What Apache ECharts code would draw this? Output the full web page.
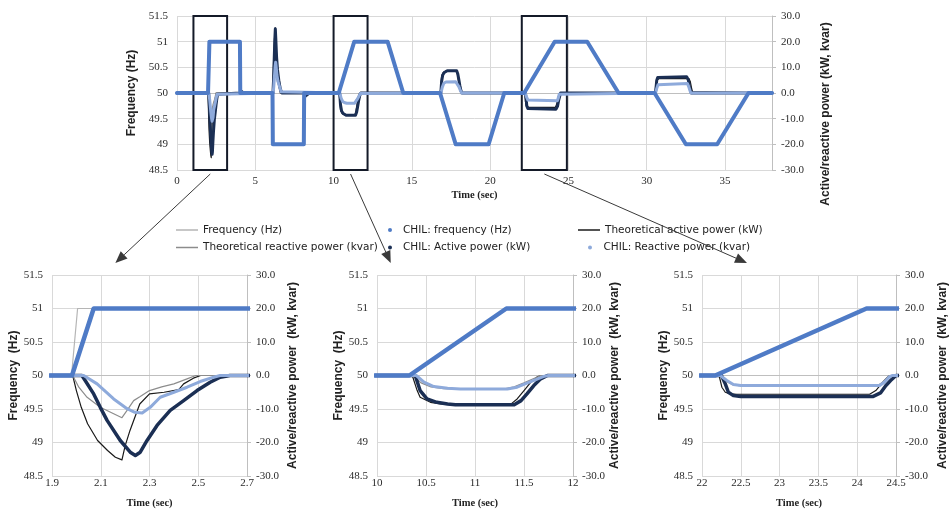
<!DOCTYPE html>
<html><head><meta charset="utf-8">
<script src="https://cdn.jsdelivr.net/npm/echarts@6/dist/echarts.min.js"></script>
<style>html,body{margin:0;padding:0;background:#fff}#c{width:950px;height:512px}</style>
</head><body><div id="c"></div>
<script>
// ---- data (time in s; frequency in Hz; power in kW / kvar) ----
const freqTheory = [[0,50],[1.98,50],[2.005,51],[4.0,51],[4.02,50],[6.1,50],[6.12,49],[8.1,49],[8.12,50],[10.33,50],[11.33,51],[13.45,51],[14.45,50],[16.8,50],[17.8,49],[19.9,49],[20.9,50],[22.17,50],[24.12,51],[26.2,51],[28.2,50],[30.5,50],[32.5,49],[34.5,49],[36.5,50],[38,50]];
const freqCHIL = [[0,50],[1.982,50],[2.071,51],[4.02,51],[4.04,50],[6.1,50],[6.12,49],[8.1,49],[8.12,50],[10.33,50],[11.32,51],[13.45,51],[14.45,50],[16.8,50],[17.8,49],[19.9,49],[20.9,50],[22.17,50],[24.12,51],[26.2,51],[28.2,50],[30.5,50],[32.5,49],[34.5,49],[36.5,50],[38,50]];
const activeTheory = [[0,0],[1.985,0],[2.0,-4.5],[2.02,-9.5],[2.046,-14.4],[2.087,-19.4],[2.128,-22.4],[2.16,-24.4],[2.187,-25.2],[2.2,-21.0],[2.22,-16.4],[2.26,-8.5],[2.30,-5.5],[2.36,-5.0],[2.42,-4.2],[2.44,-2.5],[2.48,-0.8],[2.51,0],
 [6.12,0],[6.135,4.5],[6.155,9.5],[6.18,14.4],[6.21,19.4],[6.24,22.4],[6.26,24.4],[6.28,25.4],[6.29,21.0],[6.31,16.4],[6.35,8.5],[6.39,5.5],[6.45,5.0],[6.51,4.2],[6.53,2.5],[6.57,0.8],[6.6,0],
 [10.36,0],[10.41,-4.5],[10.44,-6.5],[10.545,-8.0],[10.65,-8.5],[10.75,-8.7],[11.36,-8.7],[11.43,-7.0],[11.50,-4.5],[11.57,-2.0],[11.64,-0.3],[11.68,0],
 [16.82,0],[16.87,4.5],[16.9,6.5],[17.0,8.0],[17.1,8.5],[17.2,8.7],[17.85,8.7],[17.92,7.0],[17.99,4.5],[18.06,2.0],[18.13,0.3],[18.17,0],
 [22.22,0],[22.256,-3.5],[22.30,-5.0],[22.36,-5.5],[22.45,-5.6],[24.16,-5.6],[24.24,-4.5],[24.33,-2.0],[24.39,-0.5],[24.42,0],
 [30.55,0],[30.59,3.5],[30.63,5.0],[30.69,5.5],[30.78,5.6],[32.7,5.6],[32.78,4.5],[32.86,2.0],[32.92,0.5],[32.95,0],[38,0]];
const reactiveTheory = [[0,0],[1.985,0],[2.01,-3.5],[2.044,-6.5],[2.098,-9.5],[2.153,-11.4],[2.187,-12.6],[2.208,-10.4],[2.235,-7.5],[2.262,-6.3],[2.30,-4.5],[2.35,-3.4],[2.40,-2.5],[2.454,-1.0],[2.49,0],
 [6.12,0],[6.14,3.5],[6.17,6.5],[6.22,9.5],[6.27,11.4],[6.30,12.3],[6.32,10.4],[6.35,7.5],[6.39,5.0],[6.45,3.5],[6.52,2.5],[6.58,1.0],[6.62,0],
 [10.37,0],[10.45,-2.2],[10.55,-3.4],[10.68,-3.9],[10.8,-4.0],[11.3,-4.0],[11.4,-3.4],[11.5,-2.2],[11.6,-0.9],[11.67,0],
 [16.83,0],[16.91,2.2],[17.01,3.8],[17.15,4.3],[17.28,4.4],[17.78,4.4],[17.88,3.8],[17.98,2.5],[18.08,1.0],[18.15,0],
 [22.22,0],[22.3,-1.6],[22.39,-2.7],[22.48,-3.0],[24.26,-3.0],[24.33,-2.0],[24.39,-0.5],[24.42,0],
 [30.55,0],[30.63,1.8],[30.71,3.2],[30.8,3.7],[32.58,3.7],[32.66,2.5],[32.74,1.0],[32.8,0],[38,0]];
const activeCHIL = [[0,0],[2.023,0],[2.071,-5.5],[2.098,-9.5],[2.126,-13.4],[2.18,-19.4],[2.221,-22.9],[2.242,-23.9],[2.262,-22.9],[2.29,-19.4],[2.331,-14.9],[2.385,-10.4],[2.44,-7.5],[2.495,-4.5],[2.549,-2.0],[2.59,-0.5],[2.63,0],
 [4.04,0],[4.08,0.8],[4.15,0.3],[4.25,0],
 [6.13,0],[6.17,5.5],[6.21,13.4],[6.25,21.0],[6.28,25.0],[6.31,21.0],[6.36,14.0],[6.42,9.0],[6.5,5.0],[6.6,1.5],[6.7,0],
 [8.14,0],[8.2,-1.2],[8.3,-0.8],[8.45,0],
 [10.39,0],[10.44,-4.5],[10.51,-7.0],[10.61,-8.0],[10.72,-8.5],[10.8,-8.7],[11.40,-8.7],[11.47,-7.5],[11.53,-5.5],[11.60,-3.0],[11.67,-1.0],[11.74,0],
 [16.85,0],[16.9,4.5],[16.97,7.0],[17.07,8.0],[17.18,8.5],[17.26,8.7],[17.86,8.7],[17.93,7.5],[17.99,5.5],[18.06,3.0],[18.13,1.0],[18.2,0],
 [22.25,0],[22.30,-2.5],[22.34,-5.0],[22.405,-6.0],[22.5,-6.3],[24.2,-6.3],[24.3,-5.2],[24.37,-3.0],[24.43,-1.5],[24.5,0],
 [30.55,0],[30.6,2.5],[30.64,5.0],[30.7,6.0],[30.8,6.3],[32.55,6.3],[32.65,5.2],[32.72,3.0],[32.78,1.5],[32.85,0],[38,0]];
const reactiveCHIL = [[0,0],[2.03,0],[2.085,-2.5],[2.153,-7.0],[2.208,-9.9],[2.24,-11.0],[2.27,-11.2],[2.303,-9.5],[2.344,-6.5],[2.40,-5.0],[2.454,-3.5],[2.508,-1.8],[2.563,-0.5],[2.59,0],
 [6.14,0],[6.18,2.5],[6.23,7.0],[6.27,10.5],[6.3,12.0],[6.33,10.5],[6.38,7.0],[6.45,4.5],[6.55,2.5],[6.65,0.5],[6.7,0],
 [10.40,0],[10.48,-2.0],[10.58,-3.3],[10.72,-3.8],[10.85,-4.0],[11.33,-4.0],[11.43,-3.5],[11.53,-2.3],[11.64,-1.0],[11.71,-0.2],[11.75,0],
 [16.86,0],[16.94,2.2],[17.04,3.8],[17.18,4.3],[17.3,4.4],[17.8,4.4],[17.9,3.8],[18.0,2.5],[18.1,1.0],[18.18,0],
 [22.235,0],[22.32,-1.5],[22.405,-2.7],[22.5,-3.0],[24.29,-3.0],[24.35,-2.0],[24.41,-0.5],[24.45,0],
 [30.56,0],[30.64,1.8],[30.72,3.2],[30.82,3.7],[32.6,3.7],[32.68,2.5],[32.76,1.0],[32.82,0],[38,0]];

const timeWindows = [[0,38],[1.9,2.7],[10,12],[22,24.5]];
const timeTicks = [[0,5,10,15,20,25,30,35],[1.9,2.1,2.3,2.5,2.7],[10,10.5,11,11.5,12],[22,22.5,23,23.5,24,24.5]];
const freqRange = [48.5,51.5];
const powerRange = [-30,30];
const zoomBoxes = [[1.05,3.2],[10.0,12.17],[22.02,24.9]];
const names = {
  freqT:'Frequency (Hz)', freqC:'CHIL: frequency (Hz)', actT:'Theoretical active power (kW)',
  reactT:'Theoretical reactive power (kvar)', actC:'CHIL: Active power (kW)', reactC:'CHIL: Reactive power (kvar)'
};

// ---- styles / layout ----
const col = {freqC:'#4f7bc6', freqT:'#b5b5b5', actC:'#1b2f54', actT:'#1a1a1a', reactC:'#8eaadb', reactT:'#8c8c8c'};
const grids = [
  {left:177, top:16, width:595, height:154},
  {left:52, top:275, width:195, height:201},
  {left:377, top:275, width:196, height:201},
  {left:702, top:275, width:195, height:201}
];
const leftGap = [30, 30, 32, 32];
const rightGap = [48, 40, 36, 41];
const tickFont = {fontFamily:'Liberation Serif', fontSize:11, color:'#2b2b2b'};
const titleFont = {fontFamily:'Liberation Sans', fontWeight:'bold', fontSize:12, color:'#222'};

const chart = echarts.init(document.getElementById('c'), null, {renderer:'canvas'});
const xAxis = [], yAxis = [], series = [];
grids.forEach((g, i) => {
  xAxis.push({type:'value', gridIndex:i, min:timeWindows[i][0], max:timeWindows[i][1],
    axisLabel:Object.assign({customValues:timeTicks[i], margin: i===0?6:2}, tickFont),
    axisTick:{show:false, customValues:timeTicks[i]},
    axisLine:{show:true, lineStyle:{color:'#bfbfbf'}},
    splitLine:{show:true, lineStyle:{color:'#d9d9d9'}},
    name:'Time (sec)', nameLocation:'middle', nameGap: i===0?20:22,
    nameTextStyle:{fontFamily:'Liberation Serif', fontWeight:'bold', fontSize:10.5, color:'#222'}});
  yAxis.push({type:'value', gridIndex:i, position:'left', min:freqRange[0], max:freqRange[1], interval:0.5,
    axisLabel:Object.assign({margin:9}, tickFont),
    axisLine:{show:false}, axisTick:{show:false},
    splitLine:{show:true, lineStyle:{color:'#d9d9d9'}},
    name: i===0 ? 'Frequency (Hz)' : 'Frequency  (Hz)', nameLocation:'middle', nameRotate:90, nameGap:leftGap[i],
    nameTextStyle:Object.assign({}, titleFont)});
  yAxis.push({type:'value', gridIndex:i, position:'right', min:powerRange[0], max:powerRange[1], interval:10,
    axisLabel:Object.assign({margin:9, formatter:v=>v.toFixed(1)}, tickFont),
    axisLine:{show:true, lineStyle:{color:'#bfbfbf'}},
    axisTick:{show:true, length:4, lineStyle:{color:'#bfbfbf'}},
    splitLine:{show:false},
    name: i===0 ? 'Active/reactive power (kW, kvar)' : 'Active/reactive power  (kW, kvar)',
    nameLocation:'middle', nameRotate:90, nameGap:rightGap[i],
    nameTextStyle:Object.assign(i===0?{padding:[0,42,0,0]}:{}, titleFont)});
  const mk = (key, data, right, width, z) => ({
    type:'line', name:names[key], xAxisIndex:i, yAxisIndex:2*i+(right?1:0), data,
    symbol:'none', showSymbol:false, color:col[key], itemStyle:{color:col[key]},
    lineStyle:{color:col[key], width, cap:'round', join:'round'}, z, silent:true, animation:false
  });
  series.push(mk('actT', activeTheory, true, 1.2, 2));
  series.push(mk('reactT', reactiveTheory, true, 1.2, 2));
  series.push(mk('actC', activeCHIL, true, i===0?3:3.5, 3));
  series.push(mk('reactC', reactiveCHIL, true, 3, 4));
  series.push(mk('freqT', freqTheory, false, 1.2, 5));
  const f = mk('freqC', freqCHIL, false, i===0?4:4.5, 6);
  if (i === 0) {
    f.markArea = {silent:true, itemStyle:{color:'rgba(0,0,0,0)', borderColor:'#141a28', borderWidth:2},
      data: zoomBoxes.map(b => [{coord:[b[0], freqRange[0]]}, {coord:[b[1], freqRange[1]]}])};
  }
  series.push(f);
});

const legText = {fontFamily:'DejaVu Sans', fontSize:10.5, color:'#222'};
const leg = (name, left, top, icon, w, h, padLeft) => ({
  data:[{name, icon}], left, top, orient:'vertical', itemWidth:w, itemHeight:h, padding:0, itemGap:0,
  selectedMode:false, textStyle:Object.assign({padding:[0,0,0,padLeft]}, legText)
});
const legend = [
  leg(names.freqT, 176, 224.5, 'rect', 22, 1.5, 0),
  leg(names.reactT, 176, 242, 'rect', 22, 1.5, 0),
  leg(names.freqC, 388, 224.5, 'circle', 4, 4, 6),
  leg(names.actC, 388, 242, 'circle', 4, 4, 6),
  leg(names.actT, 578, 224.5, 'rect', 22, 1.5, 0),
  leg(names.reactC, 588, 242, 'circle', 4, 4, 6.5)
];

chart.setOption({animation:false, backgroundColor:'#fff', grid:grids, xAxis, yAxis, series, legend});

// ---- arrows from the boxes to the detail panels ----
const arrowTargets = [[1, 2.16], [2, 10.14], [3, 22.58]];
const graphic = [];
zoomBoxes.forEach((b, k) => {
  const s = chart.convertToPixel({gridIndex:0}, [(b[0]+b[1])/2, freqRange[0]]);
  const t = chart.convertToPixel({gridIndex:arrowTargets[k][0]}, [arrowTargets[k][1], freqRange[1]]);
  const x1 = s[0], y1 = s[1] + 4, x2 = t[0], y2 = t[1] - 12;
  const dx = x2 - x1, dy = y2 - y1, L = Math.hypot(dx, dy), ux = dx / L, uy = dy / L;
  const bx = x2 - ux * 12, by = y2 - uy * 12;
  graphic.push({type:'line', shape:{x1, y1, x2:bx, y2:by}, style:{stroke:'#3a3a3a', lineWidth:1}, z:50});
  graphic.push({type:'polygon', shape:{points:[[x2, y2], [bx - uy*5, by + ux*5], [bx + uy*5, by - ux*5]]},
    style:{fill:'#3a3a3a'}, z:50});
});
chart.setOption({graphic});
</script></body></html>
